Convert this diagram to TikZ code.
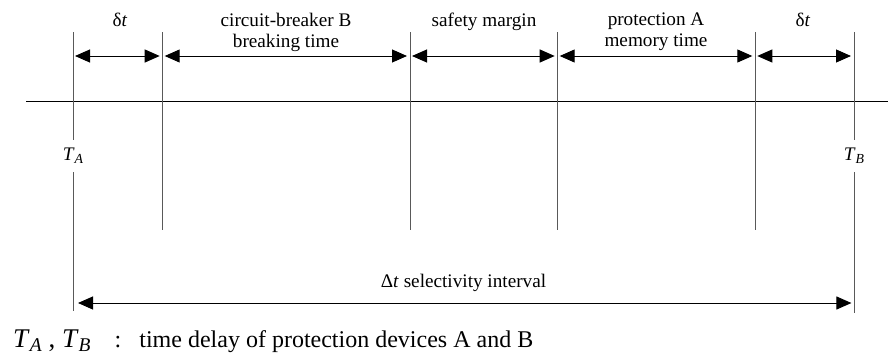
\documentclass[tikz,border=0pt]{standalone}
\usepackage{fontspec}
\setmainfont{Liberation Serif}
\usetikzlibrary{arrows.meta}
\newcommand{\tsub}[2]{\textit{#1}\raisebox{-0.35ex}{\scalebox{0.72}{\textit{#2}}}}

\begin{document}
\begin{tikzpicture}[
  x=1pt, y=-1pt,
  lbl/.style={font=\fontsize{19.2}{21}\selectfont, align=center, inner sep=0pt},
  legend/.style={font=\fontsize{24}{28}\selectfont, inner sep=0pt, anchor=base west},
  vline/.style={line width=1pt, black!65},
  dim/.style={{Triangle[length=15pt,width=13pt]}-{Triangle[length=15pt,width=13pt]},
              line width=1pt, shorten <=2pt, shorten >=3pt},
]
\useasboundingbox (0,0) rectangle (888,356);

% Trục thời gian
\coordinate (axL) at (26,101);
\coordinate (axR) at (888,101);
\draw[line width=1pt] (axL) -- (axR);

% Vạch T_A và T_B
\node[lbl, minimum height=32pt] (TA) at (73,156) {\tsub{T}{A}};
\node[lbl, minimum height=32pt] (TB) at (854,156) {\tsub{T}{B}};
\coordinate (atop) at (73,32);   \coordinate (abot) at (73,311);
\coordinate (ftop) at (854,32);  \coordinate (fbot) at (854,313);
\draw[vline] (atop) -- (TA.north);
\draw[vline] (TA.south) -- (abot);
\draw[vline] (ftop) -- (TB.north);
\draw[vline] (TB.south) -- (fbot);
\coordinate (aarr) at (73,56);   \coordinate (farr) at (854,56);
\coordinate (alow) at (73,303);  \coordinate (flow) at (854,303);

% Vạch trung gian
\coordinate (barr) at (162.7,56);
\coordinate (carr) at (410,56);
\coordinate (darr) at (557.7,56);
\coordinate (earr) at (755.3,56);
\foreach \p in {barr, carr, darr, earr}
  \draw[vline] (\p |- atop) -- ([yshift=-174pt]\p);

% Các khoảng thời gian
\draw[dim] (aarr) -- (barr);
\draw[dim] (barr) -- (carr);
\draw[dim] (carr) -- (darr);
\draw[dim] (darr) -- (earr);
\draw[dim] (earr) -- (farr);

\node[lbl, anchor=north] (dt1) at (120,13) {δ\textit{t}};
\node[lbl, anchor=north] (cbB) at (286,13) {circuit-breaker B\\breaking time};
\node[lbl, anchor=north] (safe) at (484,13) {safety margin};
\node[lbl, anchor=north] (memA) at (656,13) {protection A\\memory time};
\node[lbl, anchor=north] (dt2) at (803,13) {δ\textit{t}};

% Khoảng chọn lọc
\draw[dim, shorten <=5pt, shorten >=2.6pt] (alow) --
  node[lbl, above=11pt] (sel) {Δ\textit{t} selectivity interval} (flow);

% Chú thích
\node[legend, font=\fontsize{27}{30}\selectfont] (leg) at (13,347) {\tsub{T}{A} , \tsub{T}{B}};
\node[legend] (legtxt) at (114.5,347) {:\hspace{18pt}time delay of protection devices A and B};
\end{tikzpicture}
\end{document}
